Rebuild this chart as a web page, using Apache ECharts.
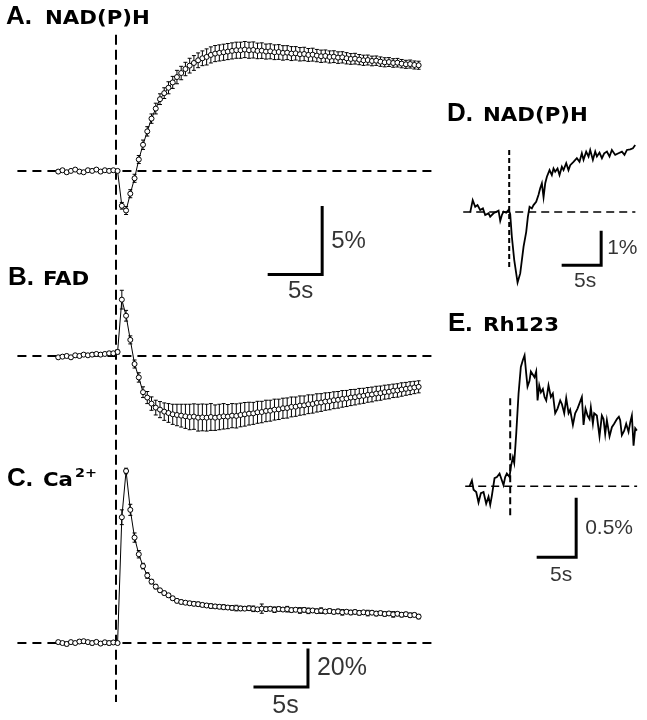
<!DOCTYPE html>
<html><head><meta charset="utf-8">
<script src="https://cdn.jsdelivr.net/npm/echarts@6/dist/echarts.min.js"></script>
<style>html,body{margin:0;padding:0;background:#fff}#c{width:647px;height:720px}</style>
</head><body><div id="c"></div>
<script>
// ---- sampling times (s) for panels A-C ----
const time = [-5.45,-5.05,-4.65,-4.25,-3.85,-3.45,-3.05,-2.65,-2.25,-1.85,-1.45,-1.05,-0.65,-0.25,
0.15,0.55,0.95,1.35,1.75,2.15,2.55,2.95,3.35,3.75,4.15,4.55,4.95,5.35,5.75,6.15,6.55,6.95,7.35,7.75,
8.15,8.55,8.95,9.35,9.75,10.15,10.55,10.95,11.35,11.75,12.15,12.55,12.95,13.35,13.75,14.15,14.55,14.95,
15.35,15.75,16.15,16.55,16.95,17.35,17.75,18.15,18.55,18.95,19.35,19.75,20.15,20.55,20.95,21.35,21.75,
22.15,22.55,22.95,23.35,23.75,24.15,24.55,24.95,25.35,25.75,26.15,26.55,26.95,27.35,27.75,28.15,28.55];

// A. NAD(P)H (% change)
const nadhMean = [-0.05,0.05,-0.1,0.0,0.1,-0.05,-0.1,0.05,0.0,0.1,-0.05,0.05,0.0,0.05,
0.0,-2.6,-2.95,-1.7,-0.55,0.85,1.95,2.95,3.9,4.65,5.35,5.8,
6.2,6.6,7.0,7.3,7.6,7.85,8.05,8.25,8.4,8.5,8.65,8.75,8.8,8.85,8.9,8.95,9.0,9.0,9.05,
9.0,9.02,8.95,8.97,8.9,8.92,8.85,8.87,8.8,8.82,8.75,8.77,8.7,8.72,8.65,8.67,8.6,8.55,8.57,8.5,
8.52,8.45,8.47,8.4,8.35,8.37,8.3,8.25,8.27,8.2,8.22,8.15,8.1,8.12,8.05,8.07,8.0,7.95,7.97,7.9,7.88];
const nadhErr = [0.1,0.1,0.12,0.1,0.1,0.12,0.1,0.1,0.12,0.1,0.1,0.1,0.12,0.1,
0.1,0.25,0.3,0.3,0.3,0.3,0.35,0.35,0.35,0.4,0.4,0.4,
0.45,0.45,0.5,0.5,0.5,0.55,0.55,0.55,0.55,0.6,0.6,0.6,0.6,0.6,0.6,0.6,0.6,0.6,0.6,
0.6,0.6,0.58,0.58,0.56,0.56,0.55,0.55,0.54,0.52,0.52,0.5,0.5,0.5,0.48,0.48,0.46,0.46,0.45,0.45,
0.44,0.43,0.42,0.42,0.4,0.4,0.38,0.38,0.37,0.36,0.35,0.35,0.34,0.33,0.32,0.32,0.31,0.3,0.3,0.3,0.3];

// B. FAD (% change)
const fadMean = [-0.1,-0.05,0.0,-0.1,0.05,0.0,0.1,0.05,0.1,0.15,0.1,0.15,0.2,0.2,
0.3,4.2,3.0,1.2,-0.6,-1.6,-2.7,-3.1,-3.55,-3.85,-4.0,
-4.15,-4.25,-4.35,-4.4,-4.45,-4.5,-4.55,-4.52,-4.6,-4.58,-4.6,-4.55,-4.6,-4.55,-4.5,-4.52,-4.45,-4.47,-4.4,-4.35,
-4.3,-4.28,-4.2,-4.18,-4.1,-4.08,-4.0,-3.98,-3.9,-3.88,-3.8,-3.78,-3.7,-3.68,-3.6,-3.58,-3.5,-3.47,-3.4,-3.37,
-3.3,-3.27,-3.2,-3.17,-3.1,-3.07,-3.0,-2.97,-2.9,-2.87,-2.8,-2.77,-2.7,-2.67,-2.6,-2.57,-2.5,-2.45,-2.4,-2.35,-2.3];
const fadErr = [0.1,0.1,0.12,0.1,0.1,0.12,0.1,0.1,0.12,0.1,0.1,0.1,0.12,0.1,
0.15,0.7,0.4,0.3,0.3,0.35,0.4,0.45,0.5,0.55,0.6,
0.65,0.7,0.75,0.8,0.85,0.9,0.95,0.95,1.0,1.0,1.0,1.0,0.95,0.95,0.95,0.9,0.9,0.9,0.88,0.88,
0.85,0.82,0.82,0.8,0.8,0.78,0.78,0.76,0.75,0.75,0.74,0.72,0.72,0.7,0.7,0.68,0.68,0.66,0.65,0.64,
0.63,0.62,0.62,0.6,0.6,0.58,0.58,0.56,0.55,0.55,0.54,0.53,0.52,0.52,0.5,0.5,0.5,0.48,0.48,0.46,0.45];

// C. Ca2+ (% change)
const caMean = [0.5,0.0,-0.5,0.5,0.0,0.8,1.0,0.5,0.0,0.6,-0.3,0.4,0.0,0.3,
0.0,68,93,72,57,48,41.6,36.5,33.2,30.5,28.5,27,25.8,24.2,
22.8,22.2,21.8,21.5,21.2,21.0,20.6,20.3,20.0,19.8,19.6,19.4,19.2,19.0,18.9,18.7,18.6,
18.8,18.5,18.2,18.6,18.3,18.5,18.0,18.4,18.1,18.3,17.8,18.0,17.6,17.9,17.4,17.6,17.2,17.5,17.0,17.3,
16.8,17.1,16.6,16.9,16.5,16.8,16.3,16.6,16.2,16.4,15.9,16.2,15.7,16.0,15.5,15.8,15.3,15.6,15.0,15.2,14.3];
const caErr = [0.8,0.8,1.0,0.8,0.8,1.0,0.8,0.8,1.0,0.8,0.8,0.8,1.0,0.8,
0.5,4.0,1.5,3.0,2.5,2.0,1.5,1.5,1.2,1.2,1.0,1.0,1.0,1.0,
1.0,1.0,0.9,1.0,1.0,1.1,1.0,1.0,1.2,1.0,1.0,1.3,1.0,1.2,1.5,1.2,1.0,
1.2,1.5,1.0,2.5,1.2,1.0,1.5,1.2,1.0,1.5,1.2,1.0,1.5,1.2,1.5,1.0,1.2,1.5,1.0,1.2,
1.0,1.2,1.5,1.0,1.2,1.0,1.2,1.0,1.5,1.0,1.2,1.0,1.2,1.0,1.5,1.0,1.2,1.0,1.2,1.0,1.2];

// D. NAD(P)H single trace
const dTime = [-5.13,-4.8,-4.47,-4.17,-3.82,-3.46,-3.16,-2.72,-2.5,-2.06,-1.84,-1.4,-1.18,-0.96,-0.75,-0.39,-0.09,0.13,0.35,0.66,
1.1,1.45,1.89,2.24,2.46,2.68,2.98,3.2,3.55,3.86,4.08,4.3,4.52,4.74,4.96,5.31,5.61,5.83,6.05,6.36,
6.62,6.93,7.15,7.5,7.8,8.03,8.46,8.9,9.25,9.56,9.78,10.13,10.44,10.66,11.01,11.32,11.54,11.88,12.2,12.5,
12.86,13.2,13.51,13.95,14.38,14.83,15.17,15.49,15.92,16.28,16.58];
const dValue = [-0.01,0.36,0.16,0.21,0.06,0.11,-0.09,-0.04,-0.14,-0.04,-0.09,0.04,-0.27,-0.09,0.01,-0.02,0.06,-0.06,-0.75,-1.45,
-2.14,-1.86,-1.05,-0.6,-0.14,0.16,0.11,0.21,0.31,0.52,0.72,0.87,0.45,0.87,1.07,1.27,1.12,1.32,1.22,1.32,
1.12,1.37,1.27,1.48,1.27,1.42,1.52,1.63,1.52,1.78,1.58,1.83,1.68,1.88,1.58,1.83,1.68,1.8,1.63,1.78,
1.83,1.68,1.88,1.73,1.78,1.83,1.73,1.88,1.9,1.93,2.03];

// E. Rh123 single trace
const eTime = [-5.35,-5.04,-4.82,-4.47,-4.17,-3.86,-3.51,-3.16,-2.85,-2.63,-2.41,-2.06,-1.75,-1.4,-1.09,-0.88,-0.66,-0.44,-0.09,0.09,
0.35,0.53,0.79,1.1,1.4,1.67,1.89,2.11,2.28,2.54,2.72,2.98,3.2,3.42,3.6,3.82,4.04,4.3,4.52,4.74,
5.04,5.35,5.61,5.92,6.23,6.58,6.8,7.11,7.37,7.68,7.89,8.25,8.55,8.86,9.12,9.43,9.65,9.91,10.18,10.44,
10.61,10.88,11.05,11.4,11.75,12.06,12.28,12.5,12.72,13.07,13.38,13.68,14.04,14.3,14.47,14.69,15.0,15.26,15.57,15.79,
16.01,16.23,16.45,16.67];
const eValue = [0.0,0.05,-0.03,-0.05,-0.14,-0.06,-0.05,-0.15,-0.09,-0.16,-0.08,0.07,0.08,0.11,0.05,0.01,0.08,0.11,0.08,0.17,
0.25,0.2,0.45,0.8,1.03,1.09,1.13,0.97,0.86,0.91,0.99,1.0,0.94,0.99,0.74,0.87,0.81,0.84,0.77,0.74,
0.87,0.77,0.8,0.63,0.67,0.74,0.71,0.63,0.76,0.63,0.66,0.53,0.63,0.67,0.66,0.77,0.53,0.67,0.61,0.58,
0.68,0.54,0.63,0.61,0.43,0.61,0.58,0.45,0.57,0.43,0.51,0.54,0.58,0.6,0.57,0.44,0.48,0.54,0.47,0.55,
0.61,0.35,0.5,0.48];

// stimulus time and dashed reference line extents (data units)
const stimTime = 0;
const leftBaselineSpan = [-9.3, 29.8];
const leftStimSpan = [10.15, -39.6];       // in panel A units
const dBaselineSpan = [-6.05, 16.6];
const dStimSpan = [1.88, -1.7];
const eBaselineSpan = [-5.92, 16.7];
const eStimSpan = [0.76, -0.25];

// scale bars: start time, base value, time length, value length
const scaleBarA = [14.45, -7.72, 5, 5];
const scaleBarC = [13.11, -23.8, 5, 20];
const scaleBarD = [7.1, -1.61, 5, 1];
const scaleBarE = [3.68, -0.612, 5, 0.5];
const scaleLabelsA = ['5s', '5%'];
const scaleLabelsC = ['5s', '20%'];
const scaleLabelsD = ['5s', '1%'];
const scaleLabelsE = ['5s', '0.5%'];

// ---------------------------------------------------------
const INK = '#000';
const chart = echarts.init(document.getElementById('c'), null, {renderer: 'canvas'});

const grids = [
  {left: 10, width: 424, top: 10, height: 700},   // A
  {left: 10, width: 424, top: 10, height: 700},   // B
  {left: 10, width: 424, top: 10, height: 700},   // C
  {left: 456, width: 190, top: 113, height: 198}, // D
  {left: 457, width: 190, top: 324, height: 255}  // E
];
const xRanges = [[-10,30],[-10,30],[-10,30],[-7,18],[-7,18]];
const yRanges = [[-40.2,12.0],[-26.4,25.8],[-36.2,342.2],[-3,3],[-0.8,1.4]];

const xAxis = xRanges.map((r,i)=>({type:'value', gridIndex:i, min:r[0], max:r[1], show:false}));
const yAxis = yRanges.map((r,i)=>({type:'value', gridIndex:i, min:r[0], max:r[1], show:false}));

const series = [];
function dashed(idx, pts, dash, width) {
  series.push({type:'line', xAxisIndex:idx, yAxisIndex:idx, data:pts, symbol:'none', silent:true, z:1,
    lineStyle:{color:INK, width:width, type:dash}});
}
function errRender(params, api) {
  const t = api.value(0), m = api.value(1), e = api.value(2);
  const hi = api.coord([t, m + e]), lo = api.coord([t, m - e]);
  const c = 2;
  const st = {stroke: INK, lineWidth: 1};
  return {type:'group', children:[
    {type:'line', shape:{x1:hi[0], y1:hi[1], x2:lo[0], y2:lo[1]}, style:st},
    {type:'line', shape:{x1:hi[0]-c, y1:hi[1], x2:hi[0]+c, y2:hi[1]}, style:st},
    {type:'line', shape:{x1:lo[0]-c, y1:lo[1], x2:lo[0]+c, y2:lo[1]}, style:st}
  ]};
}
function meanPanel(idx, mean, err) {
  series.push({type:'custom', xAxisIndex:idx, yAxisIndex:idx, silent:true, z:2,
    data: time.map((t,i)=>[t, mean[i], err[i]]), renderItem: errRender, encode:{x:0, y:1}});
  series.push({type:'line', xAxisIndex:idx, yAxisIndex:idx, silent:true, z:3,
    data: time.map((t,i)=>[t, mean[i]]), symbol:'circle', symbolSize:5, showAllSymbol:true,
    itemStyle:{color:'#fff', borderColor:INK, borderWidth:1},
    lineStyle:{color:INK, width:1}});
}
function trace(idx, ts, vs) {
  series.push({type:'line', xAxisIndex:idx, yAxisIndex:idx, silent:true, z:3,
    data: ts.map((t,i)=>[t, vs[i]]), symbol:'none', lineStyle:{color:INK, width:1.8, join:'miter'}});
}
function scaleBar(idx, bar, labels, fs, dx, dyB, dR) {
  const [t, v, dt, dv] = bar;
  series.push({type:'line', xAxisIndex:idx, yAxisIndex:idx, silent:true, z:4, symbol:'none',
    data:[[t, v], [t+dt, v], [t+dt, v+dv]], lineStyle:{color:INK, width:3, cap:'square', join:'miter'}});
  const lab = {show:true, color:INK, fontFamily:'Liberation Sans', fontSize:fs};
  series.push({type:'scatter', xAxisIndex:idx, yAxisIndex:idx, silent:true, z:4, symbolSize:0,
    itemStyle:{color:'rgba(0,0,0,0)'},
    data:[
      {value:[t+dt/2, v], label:Object.assign({}, lab, {position:'bottom', distance:dyB, offset:[dx,0], formatter:labels[0]})},
      {value:[t+dt, v+dv/2], label:Object.assign({}, lab, {position:'right', distance:dR, formatter:labels[1]})}
    ]});
}

// Left panels
[0,1,2].forEach(i => dashed(i, [[leftBaselineSpan[0],0],[leftBaselineSpan[1],0]], [9,6], 2));
dashed(0, [[stimTime, leftStimSpan[0]],[stimTime, leftStimSpan[1]]], [10,5], 2);
meanPanel(0, nadhMean, nadhErr);
meanPanel(1, fadMean, fadErr);
meanPanel(2, caMean, caErr);
scaleBar(0, scaleBarA, scaleLabelsA, 24, 5, 5, 9);
scaleBar(2, scaleBarC, scaleLabelsC, 25, 4, 7, 9);

// Right panels
dashed(3, [[dBaselineSpan[0],0],[dBaselineSpan[1],0]], [8,5], 1.6);
dashed(3, [[stimTime, dStimSpan[0]],[stimTime, dStimSpan[1]]], [5,3], 2);
trace(3, dTime, dValue);
scaleBar(3, scaleBarD, scaleLabelsD, 21, 3, 6, 6);
dashed(4, [[eBaselineSpan[0],0],[eBaselineSpan[1],0]], [8,5], 1.6);
dashed(4, [[stimTime, eStimSpan[0]],[stimTime, eStimSpan[1]]], [7,4], 2);
trace(4, eTime, eValue);
scaleBar(4, scaleBarE, scaleLabelsE, 21, 4, 7, 9);

// Panel titles
function title(x, baseline, text, big) {
  const fs = big ? 26 : 19;
  return {type:'text', x:x, y:baseline - fs*0.33, scaleX: big ? 1 : 1.12, silent:true, z:10,
    style:{text:text, fill:INK, verticalAlign:'middle', align:'left',
      font: big ? 'bold 26px "Liberation Sans"' : 'bold 19px "DejaVu Sans"'}};
}
const graphic = [
  title(6, 25, 'A.', true), title(45, 25, 'NAD(P)H', false),
  title(8, 286, 'B.', true), title(43, 286, 'FAD', false),
  title(7, 487, 'C.', true), title(43, 487, 'Ca', false),
  {type:'text', x:75, y:474, scaleX:1.1, silent:true, z:10,
    style:{text:'2+', fill:INK, verticalAlign:'middle', align:'left', font:'bold 13px "DejaVu Sans"'}},
  title(447, 122, 'D.', true), title(483, 122, 'NAD(P)H', false),
  title(448, 332, 'E.', true), title(483, 332, 'Rh123', false)
];

chart.setOption({
  animation:false,
  backgroundColor:'#fff',
  grid: grids,
  xAxis: xAxis,
  yAxis: yAxis,
  series: series,
  graphic: graphic
});
</script>
</body></html>
